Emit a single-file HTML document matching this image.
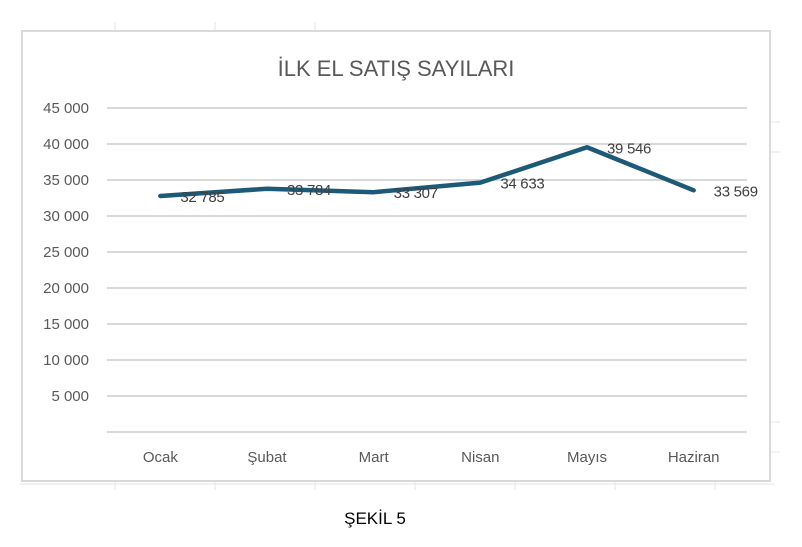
<!DOCTYPE html>
<html><head><meta charset="utf-8">
<style>
html,body{margin:0;padding:0;background:#fff;}
body{width:802px;height:542px;overflow:hidden;font-family:"Liberation Sans",sans-serif;}
</style></head>
<body>
<svg width="802" height="542" xmlns="http://www.w3.org/2000/svg">
  <g stroke="#e4e4e4" stroke-width="1">
    <line x1="115" y1="22" x2="115" y2="31"/><line x1="215" y1="22" x2="215" y2="31"/><line x1="315" y1="22" x2="315" y2="31"/>
    <line x1="20" y1="484" x2="775" y2="484"/>
    <line x1="115" y1="481" x2="115" y2="490"/><line x1="215" y1="481" x2="215" y2="490"/><line x1="315" y1="481" x2="315" y2="490"/><line x1="415" y1="481" x2="415" y2="490"/><line x1="515" y1="481" x2="515" y2="490"/><line x1="615" y1="481" x2="615" y2="490"/><line x1="715" y1="481" x2="715" y2="490"/>
    <line x1="770" y1="122" x2="780" y2="122"/><line x1="770" y1="152" x2="780" y2="152"/><line x1="770" y1="422" x2="780" y2="422"/><line x1="770" y1="452" x2="780" y2="452"/>
  </g>
  <rect x="22" y="31" width="748" height="450" fill="#fff" stroke="#d9d9d9" stroke-width="2"/>
  <text x="396" y="76" text-anchor="middle" font-size="22" fill="#595959">İLK EL SATIŞ SAYILARI</text>
  <g id="grid"></g>
  <g id="yticks"></g>
  <g id="xticks"></g>
  <g id="series"></g>
  <text x="375" y="524" text-anchor="middle" font-size="17" fill="#000">ŞEKİL 5</text>
</svg>
<script>
const categories = ["Ocak","Şubat","Mart","Nisan","Mayıs","Haziran"];
const values = [32785,33784,33307,34633,39546,33569];
const valueLabels = ["32 785","33 784","33 307","34 633","39 546","33 569"];
const yTicks = [0,5000,10000,15000,20000,25000,30000,35000,40000,45000];
const yTickLabels = ["","5 000","10 000","15 000","20 000","25 000","30 000","35 000","40 000","45 000"];

const NS="http://www.w3.org/2000/svg";
const x0=107,x1=747,y0=432,y1=108,yMax=45000;
const band=(x1-x0)/categories.length;
function xs(i){return x0+band*(i+0.5);}
function ys(v){return y0-(v/yMax)*(y0-y1);}
function mk(t,a){const e=document.createElementNS(NS,t);for(const k in a)e.setAttribute(k,a[k]);return e;}

const grid=document.getElementById('grid'),yt=document.getElementById('yticks'),xt=document.getElementById('xticks'),se=document.getElementById('series');
yTicks.forEach((v,i)=>{
  const l=mk('line',{x1:x0,x2:x1,y1:ys(v),y2:ys(v),stroke:'#d9d9d9','stroke-width':2});
  
  
  grid.appendChild(l);
  const t=mk('text',{x:89,y:ys(v)+5,'text-anchor':'end','font-size':15,fill:'#595959'});
  t.textContent=yTickLabels[i];
  
  
  yt.appendChild(t);
});
categories.forEach((c,i)=>{
  const t=mk('text',{x:xs(i),y:462,'text-anchor':'middle','font-size':15,fill:'#595959'});
  t.textContent=c;
  
  
  xt.appendChild(t);
});
const pts=values.map((v,i)=>xs(i)+','+ys(v)).join(' ');
const pl=mk('polyline',{points:pts,fill:'none',stroke:'#1c5a78','stroke-width':4.5,'stroke-linejoin':'round','stroke-linecap':'round'});


se.appendChild(pl);
values.forEach((v,i)=>{
  const t=mk('text',{x:xs(i)+20,y:ys(v)+6,'font-size':15,fill:'#404040','letter-spacing':'-0.3'});
  t.textContent=valueLabels[i];
  
  
  se.appendChild(t);
});
</script>
</body></html>
